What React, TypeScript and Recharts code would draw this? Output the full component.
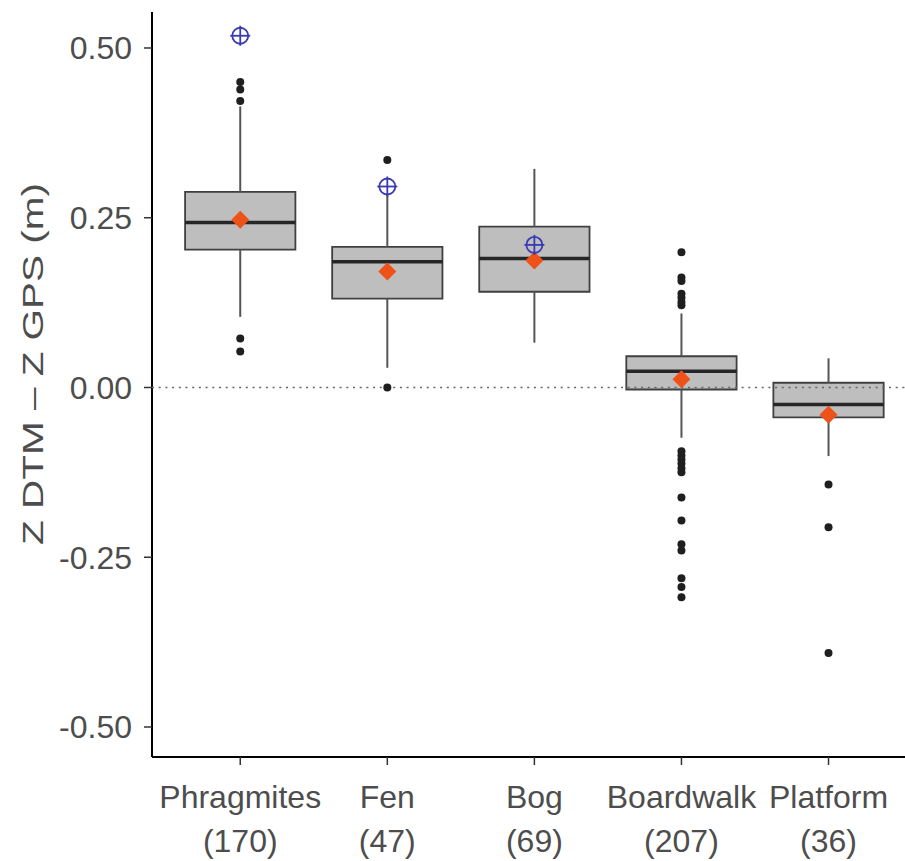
import React from 'react';
import { ComposedChart, XAxis, YAxis, Scatter, ReferenceArea, ReferenceLine, Label } from 'recharts';

// ---- data ----
const categories = ['Phragmites', 'Fen', 'Bog', 'Boardwalk', 'Platform'];
const sampleSizes = [170, 47, 69, 207, 36];
const q1Values = [0.203, 0.131, 0.141, -0.003, -0.044];
const medianValues = [0.243, 0.185, 0.19, 0.024, -0.025];
const q3Values = [0.288, 0.207, 0.237, 0.046, 0.007];
const whiskerLowValues = [0.104, 0.029, 0.066, -0.074, -0.101];
const whiskerHighValues = [0.414, 0.285, 0.322, 0.109, 0.043];
const meanValues = [0.247, 0.171, 0.187, 0.012, -0.04];
const gpsReferenceValues: (number | null)[] = [0.518, 0.296, 0.21, null, null];

const phragmitesOutliers = [0.45, 0.439, 0.422, 0.072, 0.053];
const fenOutliers = [0.335, 0.0];
const bogOutliers: number[] = [];
const boardwalkOutliers = [
  0.199, 0.162, 0.157, 0.138, 0.132, 0.126, 0.121,
  -0.094, -0.1, -0.106, -0.112, -0.119, -0.125, -0.162, -0.196, -0.231, -0.24, -0.281, -0.294, -0.309,
];
const platformOutliers = [-0.143, -0.206, -0.391];

const yTicks = [-0.5, -0.25, 0, 0.25, 0.5];
const xTicks = [0, 1, 2, 3, 4];
const yTitle = 'Z DTM \u2013 Z GPS (m)';

// ---- derived tables ----
const outlierLists = [phragmitesOutliers, fenOutliers, bogOutliers, boardwalkOutliers, platformOutliers];
const outlierData = outlierLists.flatMap((list, i) => list.map((v) => ({ x: i, y: v })));
const meanData = meanValues.map((v, i) => ({ x: i, y: v }));
const gpsRefData = gpsReferenceValues
  .map((v, i) => (v == null ? null : { x: i, y: v }))
  .filter((d) => d !== null) as { x: number; y: number }[];

// ---- styles ----
const FONT = '"Liberation Sans", Arial, sans-serif';
const TEXT_GREY = '#4d4d4d';
const BOX_HALF = 0.375;

const XTick = (props: any) => {
  const { x, y, payload } = props;
  const i = payload.value as number;
  return (
    <g>
      <text x={x} y={y + 43} textAnchor="middle" fontSize={32} fill={TEXT_GREY} fontFamily={FONT}>
        {categories[i]}
      </text>
      <text x={x} y={y + 87} textAnchor="middle" fontSize={32} fill={TEXT_GREY} fontFamily={FONT}>
        ({sampleSizes[i]})
      </text>
    </g>
  );
};

const Diamond = (props: any) => {
  const { cx, cy } = props;
  const s = 9;
  return <polygon points={`${cx},${cy - s} ${cx + s},${cy} ${cx},${cy + s} ${cx - s},${cy}`} fill="#ef5218" />;
};

const Dot = (props: any) => {
  const { cx, cy } = props;
  return <circle cx={cx} cy={cy} r={4} fill="#1f1f1f" />;
};

const CrossCircle = (props: any) => {
  const { cx, cy } = props;
  return (
    <g stroke="#3a3ab5" strokeWidth={1.8} fill="none">
      <circle cx={cx} cy={cy} r={8} />
      <line x1={cx - 10} y1={cy} x2={cx + 10} y2={cy} />
      <line x1={cx} y1={cy - 10} x2={cx} y2={cy + 10} />
    </g>
  );
};

const YTitle = () => (
  <text
    x={33}
    y={364}
    transform="rotate(-90 33 364)"
    textAnchor="middle"
    dominantBaseline="central"
    fontSize={29}
    fill={TEXT_GREY}
    fontFamily={FONT}
    textLength={362}
    lengthAdjust="spacingAndGlyphs"
  >
    {yTitle}
  </text>
);

export default function App() {
  return (
    <div style={{ position: 'absolute', left: 0, top: 0, width: 905, height: 861, background: '#fff' }}>
      <ComposedChart width={905} height={861} margin={{ top: 12, right: 0, bottom: 0, left: 0 }}>
        <XAxis
          type="number"
          dataKey="x"
          domain={[-0.6, 4.52]}
          ticks={xTicks}
          interval={0}
          allowDataOverflow
          height={104}
          tick={<XTick />}
          tickSize={8}
          tickMargin={0}
          axisLine={{ stroke: '#000', strokeWidth: 2 }}
          tickLine={{ stroke: '#333', strokeWidth: 1.5 }}
        />
        <YAxis
          type="number"
          dataKey="y"
          domain={[-0.5442, 0.553]}
          ticks={yTicks}
          interval={0}
          allowDataOverflow
          width={152}
          tickFormatter={(v: number) => v.toFixed(2)}
          tick={{ fontSize: 32, fill: TEXT_GREY, fontFamily: FONT }}
          tickSize={8}
          tickMargin={12}
          axisLine={{ stroke: '#000', strokeWidth: 2 }}
          tickLine={{ stroke: '#333', strokeWidth: 1.5 }}
        >
          <Label content={<YTitle />} />
        </YAxis>

        {categories.map((c, i) => (
          <ReferenceLine
            key={`wl-${c}`}
            segment={[{ x: i, y: whiskerLowValues[i] }, { x: i, y: q1Values[i] }]}
            stroke="#555"
            strokeWidth={2}
          />
        ))}
        {categories.map((c, i) => (
          <ReferenceLine
            key={`wh-${c}`}
            segment={[{ x: i, y: q3Values[i] }, { x: i, y: whiskerHighValues[i] }]}
            stroke="#555"
            strokeWidth={2}
          />
        ))}
        {categories.map((c, i) => (
          <ReferenceArea
            key={`box-${c}`}
            x1={i - BOX_HALF}
            x2={i + BOX_HALF}
            y1={q1Values[i]}
            y2={q3Values[i]}
            fill="#bebebe"
            fillOpacity={1}
            stroke="#404040"
            strokeWidth={1.8}
          />
        ))}
        {categories.map((c, i) => (
          <ReferenceLine
            key={`med-${c}`}
            segment={[{ x: i - BOX_HALF, y: medianValues[i] }, { x: i + BOX_HALF, y: medianValues[i] }]}
            stroke="#262626"
            strokeWidth={3.5}
          />
        ))}
        <ReferenceLine y={0} stroke="#666" strokeWidth={1.6} strokeDasharray="2 4.7" {...({ zIndex: 550 } as any)} />

        <Scatter data={outlierData} dataKey="y" shape={<Dot />} isAnimationActive={false} />
        <Scatter data={meanData} dataKey="y" shape={<Diamond />} isAnimationActive={false} />
        <Scatter data={gpsRefData} dataKey="y" shape={<CrossCircle />} isAnimationActive={false} />
      </ComposedChart>
    </div>
  );
}
